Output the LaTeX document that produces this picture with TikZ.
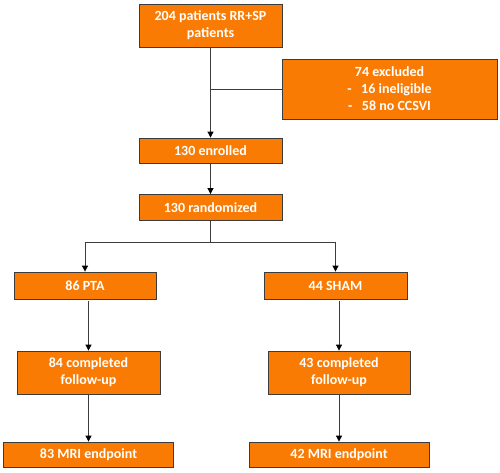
\documentclass[tikz,border=0pt]{standalone}
\usepackage{fontspec}
\setmainfont{Carlito}
\usetikzlibrary{arrows.meta}
\definecolor{boxorange}{HTML}{F97B04}
\definecolor{edgegray}{HTML}{3C3C3C}
\tikzset{
  flowbox/.style={rectangle, draw=edgegray, line width=0.8pt, fill=boxorange, text=white,
                  align=center, inner sep=0pt, font=\fontsize{14}{17}\selectfont\bfseries},
  arr/.style={-{Triangle[length=6pt, width=6pt, color=black]}, line width=0.8pt, draw=edgegray},
  link/.style={line width=0.8pt, draw=edgegray},
}

\begin{document}
\begin{tikzpicture}[x=1pt, y=-1pt]
\useasboundingbox (0,0) rectangle (500,472);
\node[flowbox, minimum width=143pt, minimum height=43pt] (start) at (210.5,25.5) {204 patients RR+SP\\patients};
\node[flowbox, minimum width=215pt, minimum height=60pt] (excl) at (389.5,89) {74 excluded\\-~~~16 ineligible\\-~~~58 no CCSVI};
\node[flowbox, minimum width=143pt, minimum height=25pt] (enrol) at (210.5,150.5) {130 enrolled};
\node[flowbox, minimum width=143pt, minimum height=26pt] (rand) at (210.5,207.5) {130 randomized};
\coordinate (split) at (210.5,242);
\node[flowbox, minimum width=142pt, minimum height=27pt] (pta) at (85,285.5) {86 PTA};
\node[flowbox, minimum width=143pt, minimum height=27pt] (sham) at (335.5,285.5) {44 SHAM};
\node[flowbox, minimum width=143pt, minimum height=43pt] (comp1) at (88.5,372.5) {84 completed\\follow-up};
\node[flowbox, minimum width=142pt, minimum height=43pt] (comp2) at (339,372.5) {43 completed\\follow-up};
\node[flowbox, minimum width=170pt, minimum height=25pt] (mri1) at (88.5,454.5) {83 MRI endpoint};
\node[flowbox, minimum width=180pt, minimum height=25pt] (mri2) at (339,454.5) {42 MRI endpoint};
% connectors
\draw[arr] (start) -- (enrol);
\draw[link] (start.south |- excl.west) -- (excl.west);
\draw[arr] (enrol) -- (rand);
\draw[link] (rand.south) -- (split);
\draw[arr] (split) -| (pta.north);
\draw[arr] (split) -| (sham.north);
\draw[arr] ([yshift=-2pt]comp1.north |- pta.south) -- (comp1.north);
\draw[arr] ([yshift=-2pt]comp2.north |- sham.south) -- (comp2.north);
\draw[arr] (comp1) -- (mri1.north -| comp1.south);
\draw[arr] (comp2) -- (mri2.north -| comp2.south);
\end{tikzpicture}
\end{document}
